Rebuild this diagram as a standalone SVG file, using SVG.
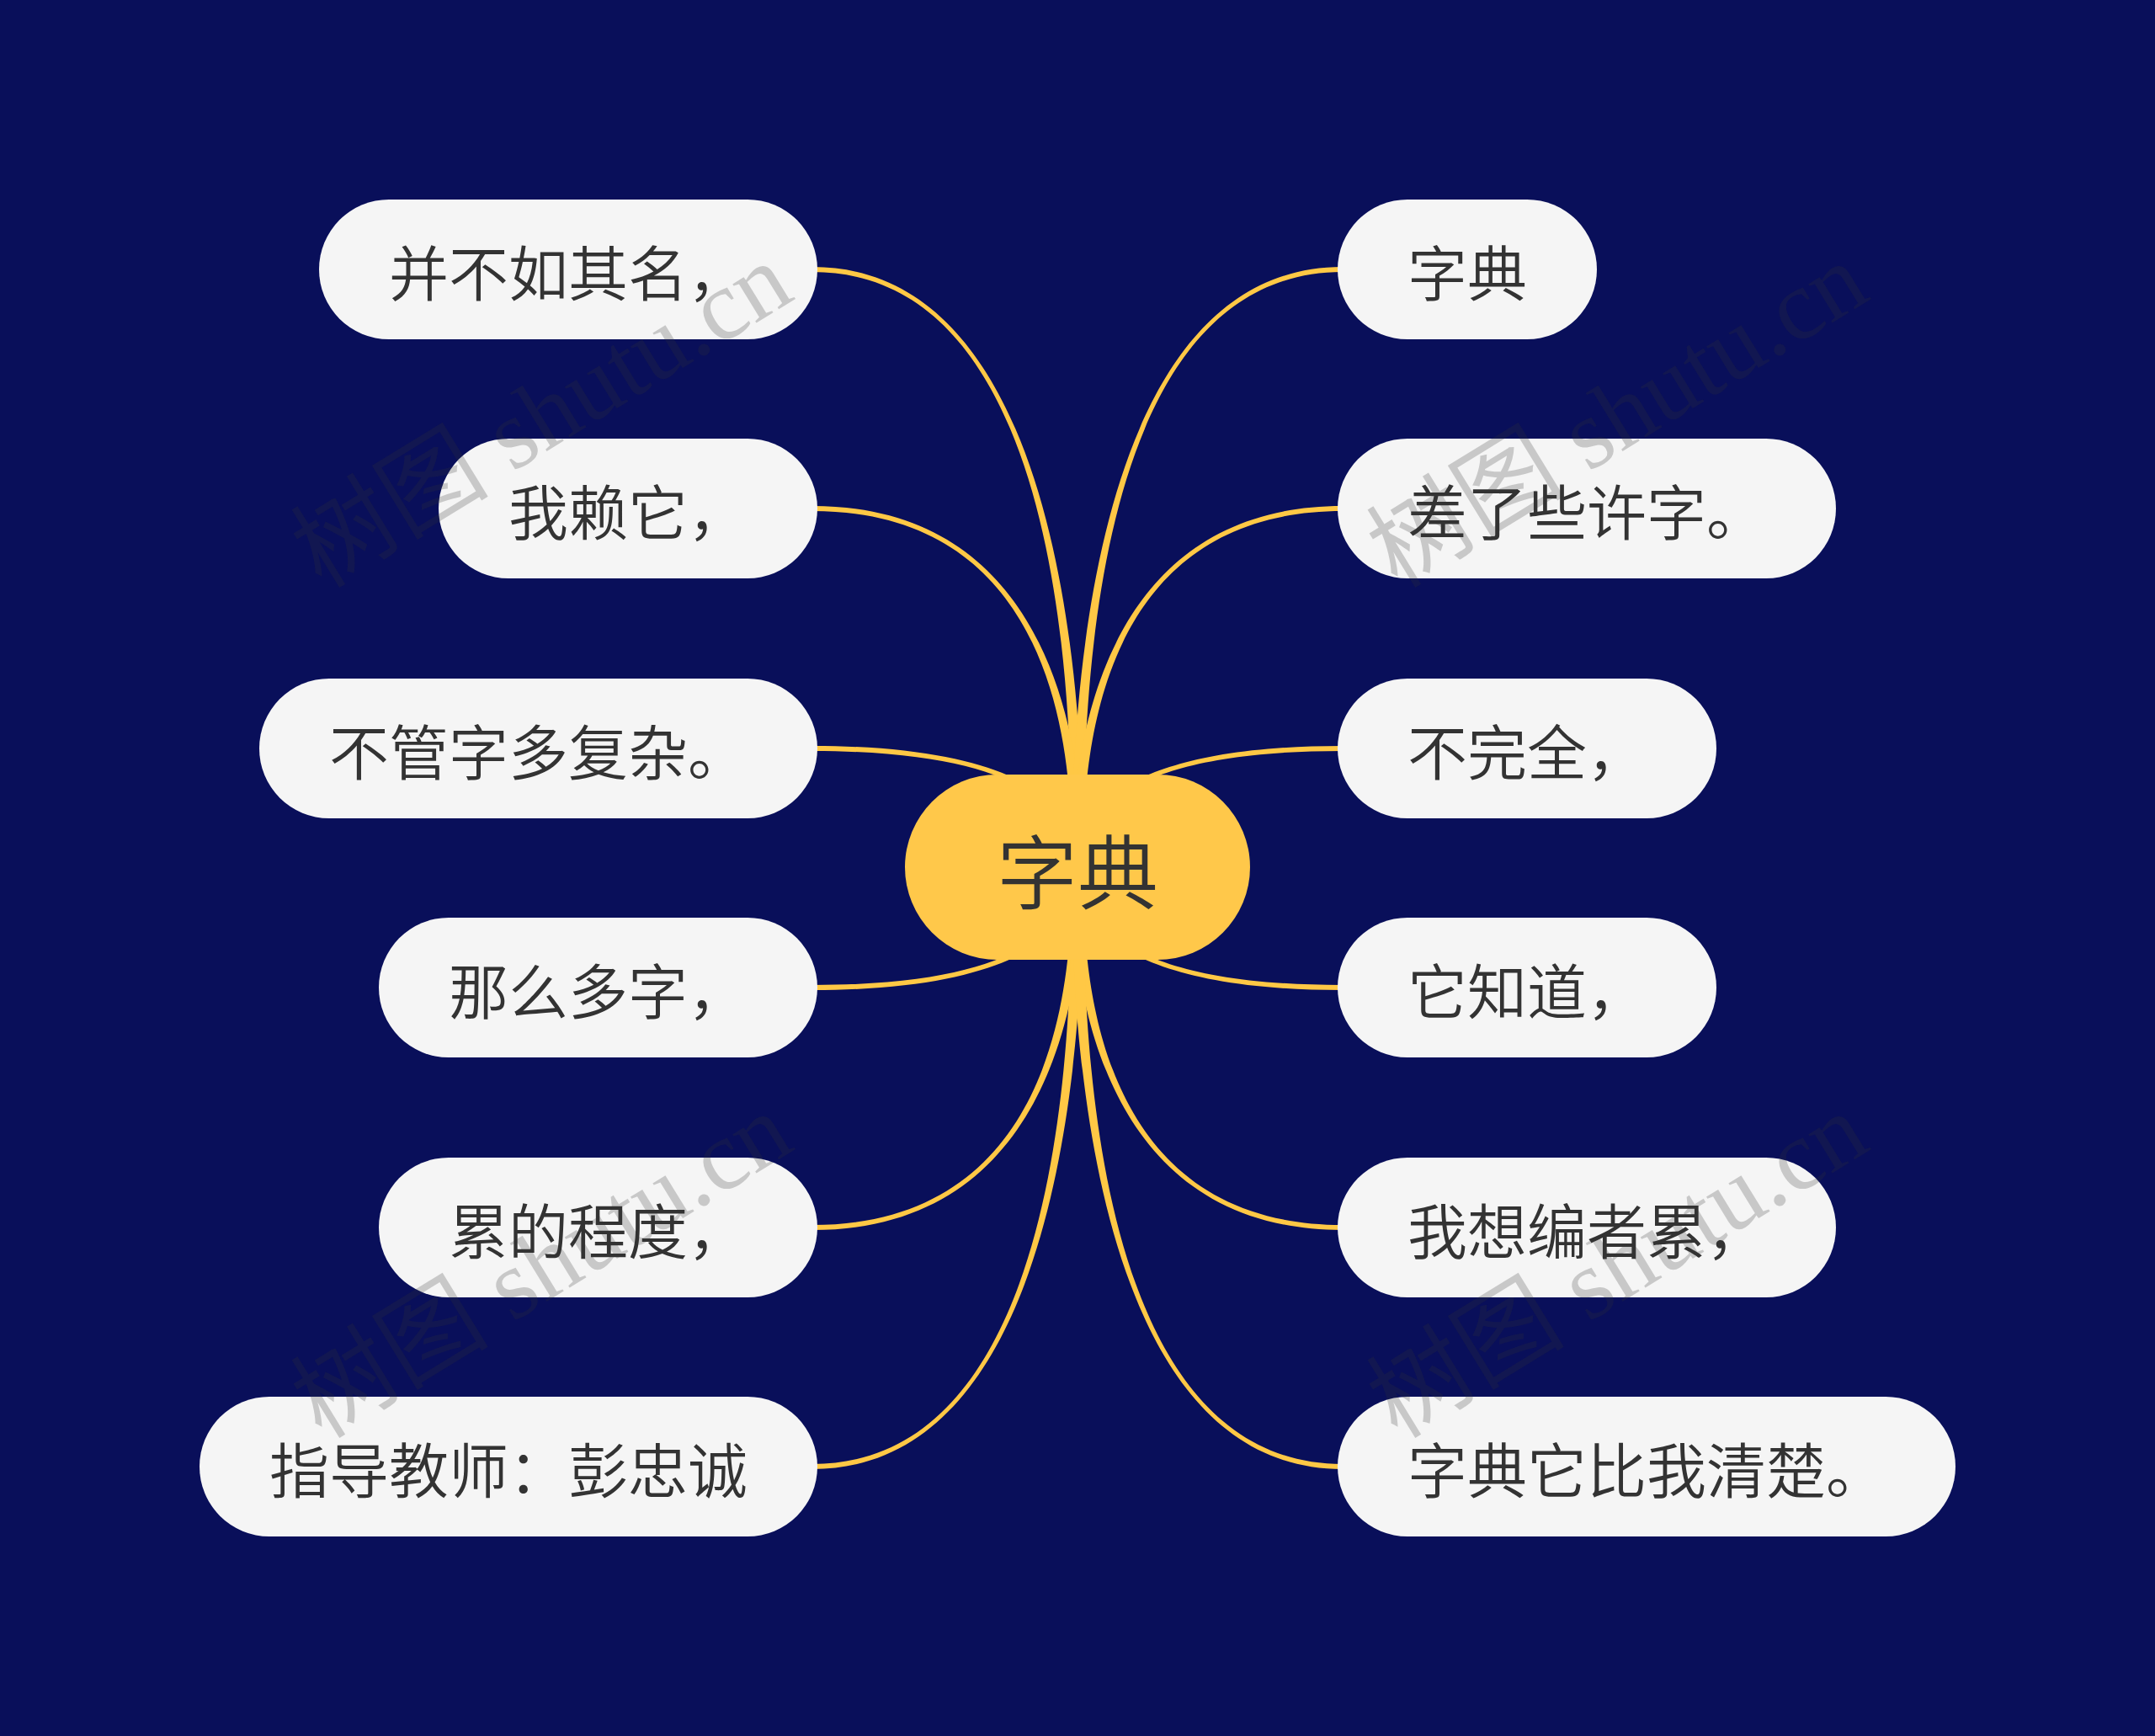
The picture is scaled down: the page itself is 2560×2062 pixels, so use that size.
<svg xmlns="http://www.w3.org/2000/svg" width="2560" height="2062" viewBox="0 0 2560 2062">
<style>
.node rect{fill:#f5f5f5}
.node text{font-family:"Noto Sans CJK SC","Noto Sans",sans-serif;font-size:71px;font-weight:350;fill:#333333;text-anchor:middle;dominant-baseline:central}
#center rect{fill:#ffc84a}
#center text{font-family:"Noto Sans CJK SC","Noto Sans",sans-serif;font-size:96px;font-weight:350;fill:#333333;text-anchor:middle;dominant-baseline:central}
#connectors path{fill:#ffc845;stroke:none}
.wm{font-family:"Liberation Serif","Noto Sans CJK SC",serif;font-size:118px;fill:#363636;fill-opacity:0.23}
</style>
<rect x="0" y="0" width="2560" height="2062" fill="#090f5a"/>
<g id="connectors">
<path d="M965,317 C1280,317 1287,895.1 1287,1030 L1273,1030 C1273,895.1 1280,323 965,323 Z"/>
<path d="M965,601 C1280,601 1287,949.1 1287,1030 L1273,1030 C1273,949.1 1280,607 965,607 Z"/>
<path d="M965,886 C1280,886 1287,1003.2 1287,1030 L1273,1030 C1273,1003.2 1280,892 965,892 Z"/>
<path d="M965,1170 C1280,1170 1273,1057.2 1273,1030 L1287,1030 C1287,1057.2 1280,1176 965,1176 Z"/>
<path d="M965,1455 C1280,1455 1273,1111.3 1273,1030 L1287,1030 C1287,1111.3 1280,1461 965,1461 Z"/>
<path d="M965,1739 C1280,1739 1273,1165.3 1273,1030 L1287,1030 C1287,1165.3 1280,1745 965,1745 Z"/>
<path d="M1595,323 C1280,323 1287,895.1 1287,1030 L1273,1030 C1273,895.1 1280,317 1595,317 Z"/>
<path d="M1595,607 C1280,607 1287,949.1 1287,1030 L1273,1030 C1273,949.1 1280,601 1595,601 Z"/>
<path d="M1595,892 C1280,892 1287,1003.2 1287,1030 L1273,1030 C1273,1003.2 1280,886 1595,886 Z"/>
<path d="M1595,1176 C1280,1176 1273,1057.2 1273,1030 L1287,1030 C1287,1057.2 1280,1170 1595,1170 Z"/>
<path d="M1595,1461 C1280,1461 1273,1111.3 1273,1030 L1287,1030 C1287,1111.3 1280,1455 1595,1455 Z"/>
<path d="M1595,1745 C1280,1745 1273,1165.3 1273,1030 L1287,1030 C1287,1165.3 1280,1739 1595,1739 Z"/>
</g>
<g id="center">
<rect x="1075" y="920" width="410" height="220" rx="110" ry="110"/>
<text x="1280" y="1030">字典</text>
</g>
<g id="left1" class="node"><rect x="379" y="237" width="592" height="166" rx="83"/><text x="675" y="320">并不如其名，</text></g>
<g id="left2" class="node"><rect x="521" y="521" width="450" height="166" rx="83"/><text x="746" y="604">我赖它，</text></g>
<g id="left3" class="node"><rect x="308" y="806" width="663" height="166" rx="83"/><text x="639.5" y="889">不管字多复杂。</text></g>
<g id="left4" class="node"><rect x="450" y="1090" width="521" height="166" rx="83"/><text x="710.5" y="1173">那么多字，</text></g>
<g id="left5" class="node"><rect x="450" y="1375" width="521" height="166" rx="83"/><text x="710.5" y="1458">累的程度，</text></g>
<g id="left6" class="node"><rect x="237" y="1659" width="734" height="166" rx="83"/><text x="604" y="1742">指导教师：彭忠诚</text></g>
<g id="right1" class="node"><rect x="1589" y="237" width="308" height="166" rx="83"/><text x="1743" y="320">字典</text></g>
<g id="right2" class="node"><rect x="1589" y="521" width="592" height="166" rx="83"/><text x="1885" y="604">差了些许字。</text></g>
<g id="right3" class="node"><rect x="1589" y="806" width="450" height="166" rx="83"/><text x="1814" y="889">不完全，</text></g>
<g id="right4" class="node"><rect x="1589" y="1090" width="450" height="166" rx="83"/><text x="1814" y="1173">它知道，</text></g>
<g id="right5" class="node"><rect x="1589" y="1375" width="592" height="166" rx="83"/><text x="1885" y="1458">我想编者累，</text></g>
<g id="right6" class="node"><rect x="1589" y="1659" width="734" height="166" rx="83"/><text x="1956" y="1742">字典它比我清楚。</text></g>
<g id="watermarks">
<text class="wm" transform="translate(382,700) rotate(-31.5)">树图 shutu.cn</text>
<text class="wm" transform="translate(1660,700) rotate(-31.5)">树图 shutu.cn</text>
<text class="wm" transform="translate(382,1710) rotate(-31.5)">树图 shutu.cn</text>
<text class="wm" transform="translate(1660,1710) rotate(-31.5)">树图 shutu.cn</text>
</g>
</svg>
